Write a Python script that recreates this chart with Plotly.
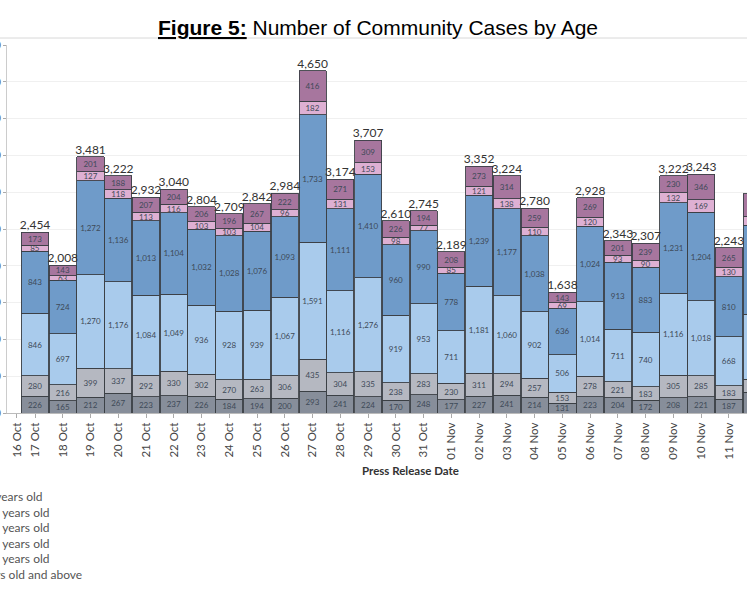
import numpy as np
import plotly.graph_objects as go

# press release dates (12 Nov is only partly in view at the right edge)
dates = ["17 Oct", "18 Oct", "19 Oct", "20 Oct", "21 Oct", "22 Oct", "23 Oct",
         "24 Oct", "25 Oct", "26 Oct", "27 Oct", "28 Oct", "29 Oct", "30 Oct",
         "31 Oct", "01 Nov", "02 Nov", "03 Nov", "04 Nov", "05 Nov", "06 Nov",
         "07 Nov", "08 Nov", "09 Nov", "10 Nov", "11 Nov", "12 Nov"]

# cases per age group, bottom of the stack first
age_0_11 = [226, 165, 212, 267, 223, 237, 226, 184, 194, 200, 293, 241, 224, 170,
            248, 177, 227, 241, 214, 131, 223, 204, 172, 208, 221, 187, 280]
age_12_19 = [280, 216, 399, 337, 292, 330, 302, 270, 263, 306, 435, 304, 335, 238,
             283, 230, 311, 294, 257, 153, 278, 221, 183, 305, 285, 183, 180]
age_20_39 = [846, 697, 1270, 1176, 1084, 1049, 936, 928, 939, 1067, 1591, 1116, 1276, 919,
             953, 711, 1181, 1060, 902, 506, 1014, 711, 740, 1116, 1018, 668, 880]
age_40_59 = [843, 724, 1272, 1136, 1013, 1104, 1032, 1028, 1076, 1093, 1733, 1111, 1410, 960,
             990, 778, 1239, 1177, 1038, 636, 1024, 913, 883, 1231, 1204, 810, 1210]
age_60_69 = [85, 63, 127, 118, 113, 116, 103, 103, 104, 96, 182, 131, 153, 98,
             77, 85, 121, 138, 110, 69, 120, 93, 90, 132, 169, 130, 120]
age_70_up = [173, 143, 201, 188, 207, 204, 206, 196, 267, 222, 416, 271, 309, 226,
             194, 208, 273, 314, 259, 143, 269, 201, 239, 230, 346, 265, 310]
totals = [2454, 2008, 3481, 3222, 2932, 3040, 2804, 2709, 2842, 2984, 4650, 3174, 3707, 2610,
          2745, 2189, 3352, 3224, 2780, 1638, 2928, 2343, 2307, 3222, 3243, 2243, 2980]

groups = ["0 - 11 years old", "12 - 19 years old", "20 - 39 years old",
          "40 - 59 years old", "60 - 69 years old", "70 years old and above"]
series = [age_0_11, age_12_19, age_20_39, age_40_59, age_60_69, age_70_up]
colors = ["#878e9a", "#b5b8c1", "#a9cbec", "#6f9bc9", "#deb0d3", "#a7769e"]

xpos = np.arange(len(dates))
stack_top = np.sum(np.array(series), axis=0)

fig = go.Figure()
for name, vals, col in zip(groups, series, colors):
    fig.add_trace(go.Bar(
        x=xpos, y=vals, name=name, showlegend=False,
        marker=dict(color=col, line=dict(color="#3b3f45", width=0.9)),
        texttemplate="%{y:,}", textposition="inside", insidetextanchor="middle",
        textangle=0, textfont=dict(size=8, color="#3e4a58", family="Lato"),
    ))

# total above each bar
fig.add_trace(go.Scatter(
    x=xpos, y=stack_top, mode="text", text=[f"{t:,}" for t in totals],
    textposition="top center", showlegend=False, cliponaxis=False,
    textfont=dict(size=12, color="#333333", family="Lato"),
))

fig.update_layout(
    width=747, height=598,
    barmode="stack", bargap=0.02,
    uniformtext=dict(minsize=8, mode="show"),
    plot_bgcolor="white", paper_bgcolor="white",
    margin=dict(l=7, r=0, t=45, b=185, autoexpand=False),
    font=dict(family="Lato", color="#555555"),
    annotations=[
        dict(text='<span style="text-decoration:underline"><b>Figure 5:</b></span> Number of Community Cases by Age',
             xref="paper", yref="paper", x=0.502, y=1.0, yshift=18, showarrow=False,
             xanchor="center", yanchor="middle",
             font=dict(size=21, color="black", family="Liberation Sans")),
        dict(text="<b>Press Release Date</b>", xref="paper", yref="paper",
             x=0.545, y=-0.155, showarrow=False, xanchor="center", yanchor="middle",
             font=dict(size=11.5, color="#333333", family="Lato")),
        # colour key, cut off at the left edge like the source image
        dict(text="<br>".join(groups), xref="paper", yref="paper",
             x=-0.0645, y=-0.2, showarrow=False, xanchor="left", yanchor="top",
             align="left", font=dict(size=12, color="#555555", family="Lato")),
    ],
    shapes=[dict(type="line", xref="paper", yref="paper", x0=-0.02, x1=1.0,
                 y0=1.019, y1=1.019, line=dict(color="#d8d8d8", width=1))],
)

fig.update_xaxes(
    range=[-1.01, 25.65],
    tickmode="array", tickvals=[-0.65] + list(xpos), ticktext=["16 Oct"] + dates,
    tickangle=-90, tickfont=dict(size=11.5, color="#444444"),
    ticks="outside", ticklen=4, tickcolor="#aaaaaa",
    showline=True, linecolor="#bbbbbb", showgrid=False, zeroline=False,
)
fig.update_yaxes(
    range=[0, 5000], dtick=500, tickformat=",",
    tickfont=dict(size=11, color="#555555"),
    ticks="outside", ticklen=3, tickcolor="#aaaaaa",
    showline=True, linecolor="#cccccc", gridcolor="#f0f0f0", zeroline=False,
)

fig.write_html("out.html", config={"displayModeBar": False},
               post_script="document.body.style.margin = '0';")
